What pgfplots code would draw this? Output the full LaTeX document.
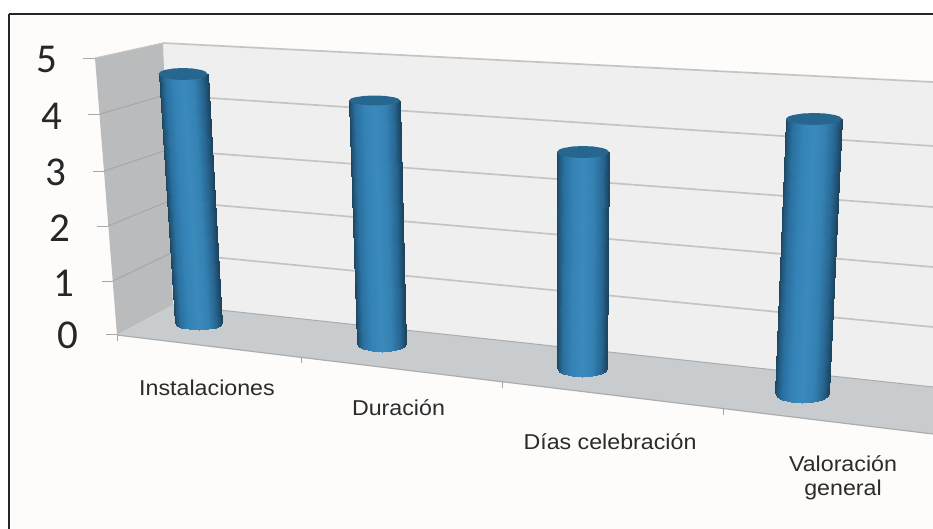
\documentclass[border=0pt]{standalone}
\usepackage{fontspec}
\setmainfont{Liberation Sans}
\newfontfamily\tickfont{Carlito}
\usepackage{pgfplots}
\pgfplotsset{compat=1.18}

\definecolor{pagebg}{HTML}{FEFCFA}
\definecolor{backwall}{HTML}{EFEFEF}
\definecolor{sidewall}{HTML}{B9BBBD}
\definecolor{floorc}{HTML}{C9CCCE}
\definecolor{gridc}{HTML}{C6C4C1}
\definecolor{sidegrid}{HTML}{A6A7A8}
\definecolor{edgec}{HTML}{ABACAD}
\definecolor{capc}{HTML}{27678F}
\definecolor{labelc}{HTML}{2B2B2B}

% one straight segment, in picture coordinates
\newcommand{\seg}[6][1.7pt]{\addplot[draw=#2, line width=#1] coordinates {(#3,#4) (#5,#6)};}
\newcommand{\cat}[3]{\node[text=labelc, inner sep=0pt] at (axis cs:#1,#2)
  {\scalebox{1.08}[1]{\fontsize{21.5}{24}\selectfont #3}};}
\newcommand{\tick}[3]{\node[text=black!85, inner sep=0pt] at (axis cs:#1,#2)
  {\fontsize{41}{44}\selectfont\tickfont #3};}

\begin{document}
\begin{tikzpicture}
\begin{axis}[
    hide axis, scale only axis,
    width=933pt, height=528pt,
    xmin=0, xmax=933, ymin=0, ymax=528,
    y dir=reverse,
    no markers,
    point meta min=-1, point meta max=1,
    colormap={cyl}{
      rgb255(0cm)=(30,70,94) rgb255(0.8cm)=(34,88,124) rgb255(2.5cm)=(42,112,160)
      rgb255(6cm)=(52,131,182) rgb255(10cm)=(60,138,188) rgb255(14cm)=(52,130,180)
      rgb255(17.5cm)=(40,102,146) rgb255(19.2cm)=(31,78,110) rgb255(20cm)=(28,68,92)
    },
  ]
% page and frame
\addplot[fill=white, draw=none] coordinates {(0,0) (933,0) (933,528) (0,528)};
\addplot[fill=pagebg, draw=black!85, line width=2pt] coordinates {(9,14) (940,14) (940,540) (9,540) (9,14)};

% walls and floor (picture positions, 3D view with perspective)
\addplot[fill=backwall, draw=none] coordinates {(163,43) (933,82) (933,387) (173,305)};
\addplot[fill=sidewall, draw=none] coordinates {(95,58) (163,43) (173,305) (117,335)};
\addplot[fill=floorc, draw=none] coordinates {(117,335) (173,305) (933,387) (933,434)};

% back wall grid, levels 5 to 1
\seg{gridc}{163}{43}{933}{82}
\seg{gridc}{165}{95}{933}{146}
\seg{gridc}{167}{150}{933}{207}
\seg{gridc}{169}{201}{933}{267}
\seg{gridc}{171}{253}{933}{327}
\seg[1pt]{edgec}{173}{305}{933}{387}
\seg[1.2pt]{edgec}{117}{335}{933}{434}

% side wall grid and value ticks, levels 5 to 0
\seg[1pt]{sidegrid}{83}{58}{95}{58}
\seg[1pt]{gridc}{95}{58}{163}{43}
\seg[1pt]{sidegrid}{88}{114}{100}{114}
\seg[1pt]{sidegrid}{100}{114}{165}{95}
\seg[1pt]{sidegrid}{93}{171}{104}{171}
\seg[1pt]{sidegrid}{104}{171}{167}{150}
\seg[1pt]{sidegrid}{97}{226}{108}{226}
\seg[1pt]{sidegrid}{108}{226}{169}{201}
\seg[1pt]{sidegrid}{102}{281}{113}{281}
\seg[1pt]{sidegrid}{113}{281}{171}{253}
\seg[1pt]{sidegrid}{106}{334}{117}{334}

% category ticks
\seg[1pt]{sidegrid}{117}{335}{117}{341}
\seg[1pt]{sidegrid}{301}{357}{301}{363}
\seg[1pt]{sidegrid}{502}{381}{502}{388}
\seg[1pt]{sidegrid}{723}{408}{723}{415}

% cylinders, values read as about 4.6, 4.3, 3.7, 4.5
\addplot[surf, shader=interp, mesh/rows=2, point meta=explicit] coordinates {
  (158.5,74)[-1] (160.5,74)[-.92] (164.6,74)[-.75] (173.2,74)[-.4] (183,74)[0] (192.8,74)[.4] (201.4,74)[.75] (205.5,74)[.92] (207.5,74)[1]
  (175,323)[-1] (176.9,325.7)[-.92] (180.9,327.6)[-.75] (189.1,329.4)[-.4] (198.5,330)[0] (207.9,329.4)[.4] (216.1,327.6)[.75] (220.1,325.7)[.92] (222,323)[1]
};
\addplot[fill=capc, draw=none] coordinates {
  (158.5,74) (160.5,71.6) (164.6,70) (173.2,68.5) (183,68) (192.8,68.5) (201.4,70) (205.5,71.6) (207.5,74)
  (205.5,76.4) (201.4,78) (192.8,79.5) (183,80) (173.2,79.5) (164.6,78) (160.5,76.4)};

\addplot[surf, shader=interp, mesh/rows=2, point meta=explicit] coordinates {
  (349,100.5)[-1] (351,100.5)[-.92] (355.4,100.5)[-.75] (364.3,100.5)[-.4] (374.5,100.5)[0] (384.7,100.5)[.4] (393.6,100.5)[.75] (398,100.5)[.92] (400,100.5)[1]
  (357,344)[-1] (359,347.1)[-.92] (363.1,349.3)[-.75] (371.7,351.3)[-.4] (381.5,352)[0] (391.3,351.3)[.4] (399.9,349.3)[.75] (404,347.1)[.92] (406,344)[1]
};
\addplot[fill=capc, draw=none] coordinates {
  (349,100.5) (351,98.5) (355.4,97.2) (364.3,95.9) (374.5,95.5) (384.7,95.9) (393.6,97.2) (398,98.5) (400,100.5)
  (398,102.5) (393.6,103.8) (384.7,105.1) (374.5,105.5) (364.3,105.1) (355.4,103.8) (351,102.5)};

\addplot[surf, shader=interp, mesh/rows=2, point meta=explicit] coordinates {
  (557,152)[-1] (559.1,152)[-.92] (563.5,152)[-.75] (572.6,152)[-.4] (583,152)[0] (593.4,152)[.4] (602.5,152)[.75] (606.9,152)[.92] (609,152)[1]
  (557,368)[-1] (559,371.5)[-.92] (563.25,374)[-.75] (572,376.3)[-.4] (582,377)[0] (592,376.3)[.4] (600.75,374)[.75] (605,371.5)[.92] (607,368)[1]
};
\addplot[fill=capc, draw=none] coordinates {
  (557,152) (559.1,149.6) (563.5,148) (572.6,146.5) (583,146) (593.4,146.5) (602.5,148) (606.9,149.6) (609,152)
  (606.9,154.4) (602.5,156) (593.4,157.5) (583,158) (572.6,157.5) (563.5,156) (559.1,154.4)};

\addplot[surf, shader=interp, mesh/rows=2, point meta=explicit] coordinates {
  (786,119)[-1] (788.2,119)[-.92] (793,119)[-.75] (802.8,119)[-.4] (814,119)[0] (825.2,119)[.4] (835,119)[.75] (839.8,119)[.92] (842,119)[1]
  (775,393)[-1] (777.2,396.9)[-.92] (781.75,399.6)[-.75] (791.2,402.2)[-.4] (802,403)[0] (812.8,402.2)[.4] (822.25,399.6)[.75] (826.8,396.9)[.92] (829,393)[1]
};
\addplot[fill=capc, draw=none] coordinates {
  (786,119) (788.2,116.6) (793,115) (802.8,113.5) (814,113) (825.2,113.5) (835,115) (839.8,116.6) (842,119)
  (839.8,121.4) (835,123) (825.2,124.5) (814,125) (802.8,124.5) (793,123) (788.2,121.4)};

% value labels
\tick{47}{59}{5}
\tick{52}{116}{4}
\tick{56}{172}{3}
\tick{60}{228}{2}
\tick{64}{283}{1}
\tick{68}{335}{0}

% category labels
\cat{207}{388}{Instalaciones}
\cat{398.5}{408}{Duración}
\cat{610}{442}{Días celebración}
\cat{843}{464}{Valoración}
\cat{843}{490}{general}
\end{axis}
\end{tikzpicture}
\end{document}
